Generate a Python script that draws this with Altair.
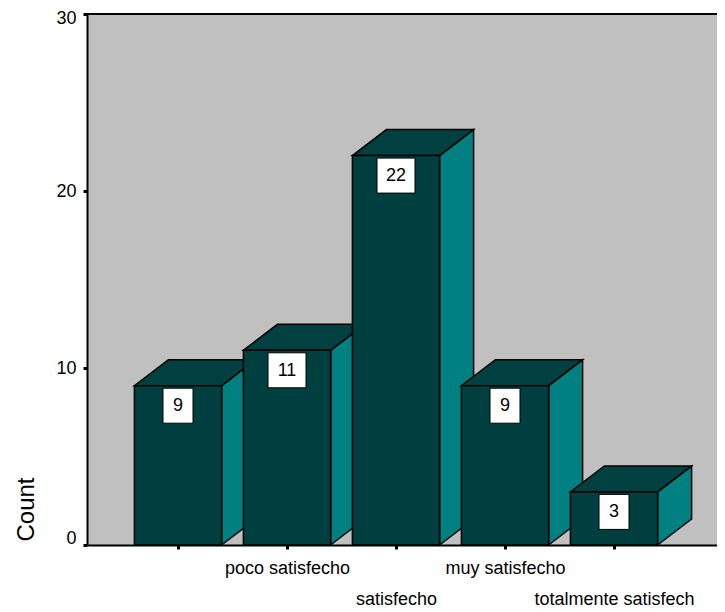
import json
import altair as alt
import pandas as pd

# ---- data ----
categories = ["", "poco satisfecho", "satisfecho", "muy satisfecho", "totalmente satisfech"]
counts = [9, 11, 22, 9, 3]
y_ticks = [0, 10, 20, 30]

# ---- geometry constants (pixels) ----
W, H = 630, 531
STEP_PX = 109.0
Y_PX = H / 30.0
HALF = 0.40                 # half bar width in category units
DX = 34 / STEP_PX           # 3D depth, x units
DY = 26 / Y_PX              # 3D depth, y units
x0 = -91 / STEP_PX
x1 = x0 + W / STEP_PX

FRONT = "#003f3f"
TOP = "#004040"
SIDE = "#008080"
FONT = "Liberation Sans"

idx = list(range(len(categories)))

front_df = pd.DataFrame({
    "i": idx,
    "xl": [i - HALF for i in idx],
    "xr": [i + HALF for i in idx],
    "v": counts,
    "zero": [0] * len(idx),
})

side_rows, top_rows, box_rows = [], [], []
for i, v in zip(idx, counts):
    xl, xr = i - HALF, i + HALF
    side_rows += [
        {"bar": i, "x": xr, "lo": 0, "hi": v},
        {"bar": i, "x": xr + DX, "lo": DY, "hi": v + DY},
    ]
    top_rows += [
        {"bar": i, "x": xl, "lo": v, "hi": v},
        {"bar": i, "x": xl + DX, "lo": v, "hi": v + DY},
        {"bar": i, "x": xr, "lo": v, "hi": v + DY},
        {"bar": i, "x": xr + DX, "lo": v + DY, "hi": v + DY},
    ]
    half_w = (len(str(v)) * 8 + 22) / 2 / STEP_PX
    box_rows.append({
        "i": i, "v": v,
        "bx1": i - half_w, "bx2": i + half_w,
        "by1": v - 2.5 / Y_PX, "by2": v - 37.5 / Y_PX,
        "ty": v - 20.5 / Y_PX,
        "label": str(v),
    })

side_df = pd.DataFrame(side_rows)
top_df = pd.DataFrame(top_rows)
box_df = pd.DataFrame(box_rows)

xscale = alt.Scale(domain=[x0, x1], nice=False, zero=False)
yscale = alt.Scale(domain=[0, 30], nice=False, zero=True)

label_expr = json.dumps(categories) + "[datum.value]"

x_axis = alt.Axis(
    values=idx, labelExpr=label_expr, title=None,
    domainColor="black", domainWidth=2,
    tickColor="black", tickWidth=3, tickSize=4,
    labelFont=FONT, labelFontSize=18, labelColor="black",
    labelOverlap=False, labelBound=False, labelFlush=False,
    labelPadding={"condition": {"test": "datum.value % 2 == 1", "value": 10}, "value": 41},
    grid=False,
)
y_axis = alt.Axis(
    values=y_ticks, title="Count",
    domainColor="black", domainWidth=2,
    tickColor="black", tickWidth=3, tickSize=4,
    labelFont=FONT, labelFontSize=18, labelColor="black",
    labelPadding=7, labelFlush=False, labelOverlap=False,
    labelOffset={"condition": [
        {"test": "datum.value == 0", "value": -7},
        {"test": "datum.value == 30", "value": 4},
    ], "value": 0},
    titleFont=FONT, titleFontSize=24, titleFontWeight="normal", titleColor="black",
    titleAngle=270, titleX=-61, titleY=495, titleAlign="center", titleBaseline="middle",
    grid=False,
)


def X(field):
    return alt.X(field, scale=xscale, axis=x_axis)


def Y(field):
    return alt.Y(field, scale=yscale, axis=y_axis)


sides = alt.Chart(side_df).mark_area(
    fill=SIDE, stroke="black", strokeWidth=1.5, interpolate="linear", orient="vertical"
).encode(
    x=X("x:Q"), y=Y("lo:Q"), y2="hi:Q", detail="bar:N",
)

tops = alt.Chart(top_df).mark_area(
    fill=TOP, stroke="black", strokeWidth=1.5, interpolate="linear", orient="vertical"
).encode(
    x=X("x:Q"), y=Y("lo:Q"), y2="hi:Q", detail="bar:N",
)

fronts = alt.Chart(front_df).mark_rect(
    fill=FRONT, stroke="black", strokeWidth=1.5
).encode(
    x=X("xl:Q"), x2="xr:Q", y=Y("zero:Q"), y2="v:Q",
)

boxes = alt.Chart(box_df).mark_rect(
    fill="white", stroke="black", strokeWidth=1
).encode(
    x=X("bx1:Q"), x2="bx2:Q", y=Y("by1:Q"), y2="by2:Q",
)

texts = alt.Chart(box_df).mark_text(
    font=FONT, fontSize=18, color="black", baseline="middle", align="center"
).encode(
    x=X("i:Q"), y=Y("ty:Q"), text="label:N",
)

top_border = alt.Chart(pd.DataFrame({"t": [30]})).mark_rule(
    color="black", strokeWidth=2
).encode(y=Y("t:Q"))

chart = alt.layer(sides, tops, fronts, boxes, texts, top_border).properties(
    width=W, height=H,
    autosize=alt.AutoSizeParams(type="none"),
    padding={"left": 79, "top": 6, "right": 0, "bottom": 64},
    background="white",
).configure_view(fill="#C0C0C0", stroke=None)

chart.save("out.html", embed_options={"renderer": "svg", "actions": False})
